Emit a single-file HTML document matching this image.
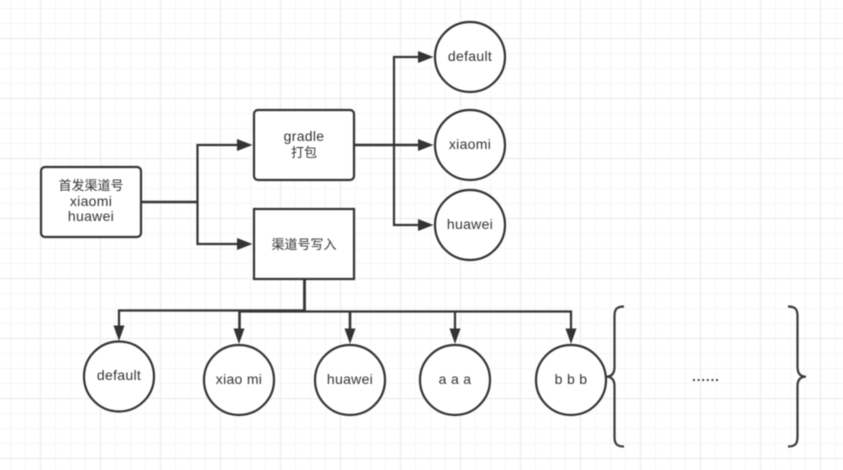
<!DOCTYPE html>
<html>
<head>
<meta charset="utf-8">
<style>
html,body{margin:0;padding:0;background:#fff;width:843px;height:470px;overflow:hidden}
svg{display:block;filter:blur(0.5px)}
text{font-family:"Liberation Sans","Noto Sans CJK SC",sans-serif;font-size:14px;fill:#333;text-anchor:middle;letter-spacing:.3px}
.cjk{font-size:13px;letter-spacing:0}
</style>
</head>
<body>
<svg width="843" height="470" viewBox="0 0 843 470" xmlns="http://www.w3.org/2000/svg">
<defs>
<pattern id="minor" width="15" height="15" patternUnits="userSpaceOnUse" x="10" y="8">
<path d="M.5 0V15M0 .5H15" fill="none" stroke="#f5f5f5" stroke-width="1"/>
</pattern>
<pattern id="major" width="60" height="60" patternUnits="userSpaceOnUse" x="40" y="38">
<path d="M.5 0V60M0 .5H60" fill="none" stroke="#ebebeb" stroke-width="1"/>
</pattern>
</defs>
<rect width="843" height="470" fill="#fff"/>
<rect width="843" height="470" fill="url(#minor)"/>
<rect width="843" height="470" fill="url(#major)"/>

<g fill="none" stroke="#333" stroke-width="2.200">
<path d="M141 202H197.500" stroke-width="2.600"/>
<path d="M240 145H197.500V244H240"/>
<path d="M354 145H422" stroke-width="2.600"/>
<path d="M422 57H394V225H422"/>
<path d="M304.500 279V311" stroke-width="2.800"/>
<path d="M304.500 310.500H119V330"/>
<path d="M239 311.500H571V332"/>
<path d="M239.500 311V332" stroke-width="2.600"/>
<path d="M350 312V332" stroke-width="2.600"/>
<path d="M455 312V332"/>
</g>
<g fill="#333">
<path d="M237 139L252.500 145L237 151Z"/>
<path d="M237 238L252.500 244L237 250Z"/>
<path d="M418 51L433.500 57L418 63Z"/>
<path d="M418 139L433.500 145L418 151Z"/>
<path d="M418 219L433.500 225L418 231Z"/>
<path d="M113.500 325.500L124.500 325.500L119 341Z"/>
<path d="M233.500 328.500L244.500 328.500L239 344Z"/>
<path d="M344.500 328.500L355.500 328.500L350 344Z"/>
<path d="M449.500 328.500L460.500 328.500L455 344Z"/>
<path d="M565.500 328.500L576.500 328.500L571 344Z"/>
</g>

<g fill="#fff" stroke="#333" stroke-width="2.200">
<rect x="41" y="167" width="100" height="70" rx="4"/>
<rect x="254" y="110" width="100" height="70" rx="4"/>
<rect x="254" y="209" width="100" height="70"/>
<circle cx="470" cy="57" r="35"/>
<circle cx="470" cy="145" r="35"/>
<circle cx="470" cy="225" r="35"/>
<circle cx="119" cy="376.500" r="35"/>
<circle cx="239" cy="380" r="35"/>
<circle cx="350" cy="380" r="35"/>
<circle cx="455" cy="380" r="35"/>
<circle cx="571" cy="380" r="35"/>
</g>

<g fill="none" stroke="#3a3a3a" stroke-width="2.200">
<path d="M624 306.500C617 306.500 614.500 309 614.500 316V367C614.500 373 612 376.700 606 376.700C612 376.700 614.500 380 614.500 386V437C614.500 444 617 446.500 624 446.500"/>
<path d="M788 306.500C795 306.500 797.500 309 797.500 316V367C797.500 373 800 376.700 806 376.700C800 376.700 797.500 380 797.500 386V437C797.500 444 795 446.500 788 446.500"/>
</g>

<text class="cjk" x="91" y="190">首发渠道号</text>
<text x="91" y="206">xiaomi</text>
<text x="91" y="221">huawei</text>
<text x="304" y="141">gradle</text>
<text class="cjk" x="304" y="157">打包</text>
<text class="cjk" x="304" y="249">渠道号写入</text>
<text x="470" y="61">default</text>
<text x="470" y="149">xiaomi</text>
<text x="470" y="229">huawei</text>
<text x="119" y="380">default</text>
<text x="239" y="384">xiao mi</text>
<text x="350" y="384">huawei</text>
<text x="455" y="384">a a a</text>
<text x="571" y="384">b b b</text>
<text x="706" y="381" style="letter-spacing:1px;font-size:13px;font-weight:bold">......</text>
</svg>
</body>
</html>
